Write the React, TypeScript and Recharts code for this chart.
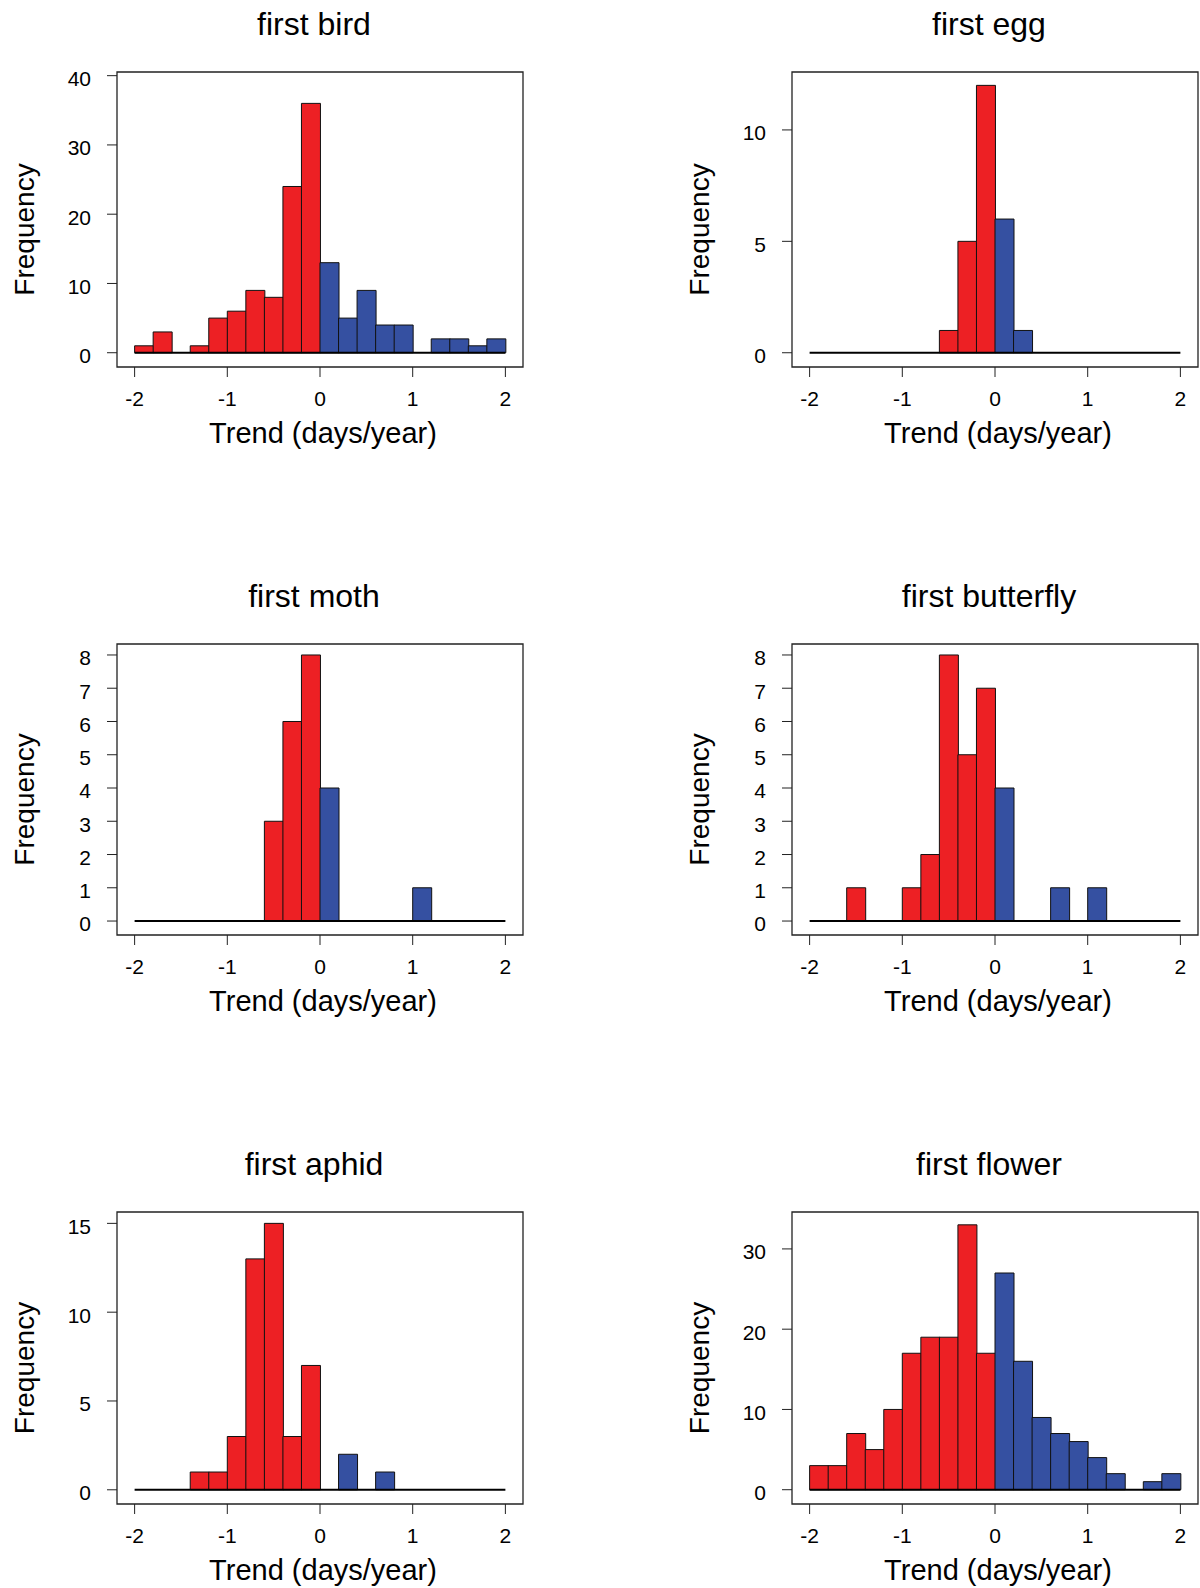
import { BarChart, Bar, XAxis, YAxis, Cell, ReferenceLine, ReferenceArea } from 'recharts'

// bin centres (bins of 0.2 days/year from -2 to 2)
const binMids = [
  -1.9, -1.7, -1.5, -1.3, -1.1, -0.9, -0.7, -0.5, -0.3, -0.1,
  0.1, 0.3, 0.5, 0.7, 0.9, 1.1, 1.3, 1.5, 1.7, 1.9,
]
const xTicks = [-2, -1, 0, 1, 2]

const birdCounts = [1, 3, 0, 1, 5, 6, 9, 8, 24, 36, 13, 5, 9, 4, 4, 0, 2, 2, 1, 2]
const eggCounts = [0, 0, 0, 0, 0, 0, 0, 1, 5, 12, 6, 1, 0, 0, 0, 0, 0, 0, 0, 0]
const mothCounts = [0, 0, 0, 0, 0, 0, 0, 3, 6, 8, 4, 0, 0, 0, 0, 1, 0, 0, 0, 0]
const butterflyCounts = [0, 0, 1, 0, 0, 1, 2, 8, 5, 7, 4, 0, 0, 1, 0, 1, 0, 0, 0, 0]
const aphidCounts = [0, 0, 0, 1, 1, 3, 13, 15, 3, 7, 0, 2, 0, 1, 0, 0, 0, 0, 0, 0]
const flowerCounts = [3, 3, 7, 5, 10, 17, 19, 19, 33, 17, 27, 16, 9, 7, 6, 4, 2, 0, 1, 2]

const birdTicks = [0, 10, 20, 30, 40]
const eggTicks = [0, 5, 10]
const mothTicks = [0, 1, 2, 3, 4, 5, 6, 7, 8]
const butterflyTicks = [0, 1, 2, 3, 4, 5, 6, 7, 8]
const aphidTicks = [0, 5, 10, 15]
const flowerTicks = [0, 10, 20, 30]

const FONT = '"Liberation Sans", Arial, Helvetica, sans-serif'
const RED = '#ED2024'
const BLUE = '#3550A1'

const X_DOMAIN: [number, number] = [-2.19, 2.19]
const COL_LEFT = [0, 675]
const ROW_TOP = [72, 644, 1212]
const ROW_H = [295, 291, 292]
const Y_AXIS_W = 117
const PLOT_W = 406
const X_AXIS_H = 90
const MARGIN_TOP = 10

const FrequencyLabel = ({ viewBox }: any) => {
  if (!viewBox) return null
  const cx = viewBox.x + viewBox.width - 92.5
  const cy = viewBox.y + viewBox.height / 2 + 10
  return (
    <text
      x={cx}
      y={cy}
      transform={`rotate(-90 ${cx} ${cy})`}
      textAnchor='middle'
      dominantBaseline='central'
      fontSize={28}
      fontFamily={FONT}
      fill='#000'
    >
      Frequency
    </text>
  )
}

const TrendLabel = ({ viewBox }: any) => {
  if (!viewBox) return null
  return (
    <text
      x={viewBox.x + viewBox.width / 2 + 3}
      y={viewBox.y + 76}
      textAnchor='middle'
      fontSize={29}
      fontFamily={FONT}
      fill='#000'
    >
      Trend (days/year)
    </text>
  )
}

const Histogram = ({
  title,
  counts,
  yTicks,
  yDomain,
  col,
  row,
}: {
  title: string
  counts: number[]
  yTicks: number[]
  yDomain: [number, number]
  col: number
  row: number
}) => {
  const data = binMids.map((mid, i) => ({ mid, count: counts[i] }))
  const plotH = ROW_H[row]

  return (
    <div
      style={{
        position: 'absolute',
        left: COL_LEFT[col],
        top: ROW_TOP[row] - MARGIN_TOP,
      }}
    >
      <div
        style={{
          position: 'absolute',
          left: Y_AXIS_W - 6,
          width: PLOT_W,
          top: -54,
          textAlign: 'center',
          fontFamily: FONT,
          fontSize: 32,
          lineHeight: '32px',
          color: '#000',
          whiteSpace: 'nowrap',
        }}
      >
        {title}
      </div>
      <BarChart
        width={Y_AXIS_W + PLOT_W + 3}
        height={MARGIN_TOP + plotH + X_AXIS_H}
        data={data}
        margin={{ top: MARGIN_TOP, right: 3, left: 0, bottom: 0 }}
        barCategoryGap={0}
        barGap={0}
      >
        <XAxis
          type='number'
          dataKey='mid'
          domain={X_DOMAIN}
          ticks={xTicks}
          allowDataOverflow
          interval={0}
          axisLine={false}
          tickSize={10}
          tickMargin={14}
          height={X_AXIS_H}
          tickLine={{ stroke: '#222' }}
          tick={{ fill: '#000', fontSize: 21, fontFamily: FONT }}
          label={{ content: TrendLabel }}
        />
        <YAxis
          type='number'
          domain={yDomain}
          ticks={yTicks}
          allowDataOverflow
          interval={0}
          axisLine={false}
          width={Y_AXIS_W}
          tickSize={10}
          tickMargin={16}
          tickLine={{ stroke: '#222' }}
          tick={{ fill: '#000', fontSize: 21, fontFamily: FONT, dy: 3 }}
          label={{ content: FrequencyLabel }}
        />
        <ReferenceArea
          x1={X_DOMAIN[0]}
          x2={X_DOMAIN[1]}
          y1={yDomain[0]}
          y2={yDomain[1]}
          fill='none'
          stroke='#222'
          strokeWidth={1.3}
          ifOverflow='visible'
        />
        <Bar dataKey='count' isAnimationActive={false} stroke='#111' strokeWidth={1}>
          {data.map((d) => (
            <Cell key={d.mid} fill={d.mid < 0 ? RED : BLUE} />
          ))}
        </Bar>
        <ReferenceLine
          segment={[
            { x: -2, y: 0 },
            { x: 2, y: 0 },
          ]}
          stroke='#000'
          strokeWidth={2}
          ifOverflow='visible'
        />
      </BarChart>
    </div>
  )
}

export default function App() {
  return (
    <div
      style={{
        position: 'absolute',
        left: 0,
        top: 0,
        width: 1200,
        height: 1588,
        background: '#fff',
      }}
    >
      <Histogram title='first bird' counts={birdCounts} yTicks={birdTicks} yDomain={[-2.06, 40.53]} col={0} row={0} />
      <Histogram title='first egg' counts={eggCounts} yTicks={eggTicks} yDomain={[-0.64, 12.6]} col={1} row={0} />
      <Histogram title='first moth' counts={mothCounts} yTicks={mothTicks} yDomain={[-0.42, 8.33]} col={0} row={1} />
      <Histogram title='first butterfly' counts={butterflyCounts} yTicks={butterflyTicks} yDomain={[-0.42, 8.33]} col={1} row={1} />
      <Histogram title='first aphid' counts={aphidCounts} yTicks={aphidTicks} yDomain={[-0.8, 15.64]} col={0} row={2} />
      <Histogram title='first flower' counts={flowerCounts} yTicks={flowerTicks} yDomain={[-1.78, 34.6]} col={1} row={2} />
    </div>
  )
}
